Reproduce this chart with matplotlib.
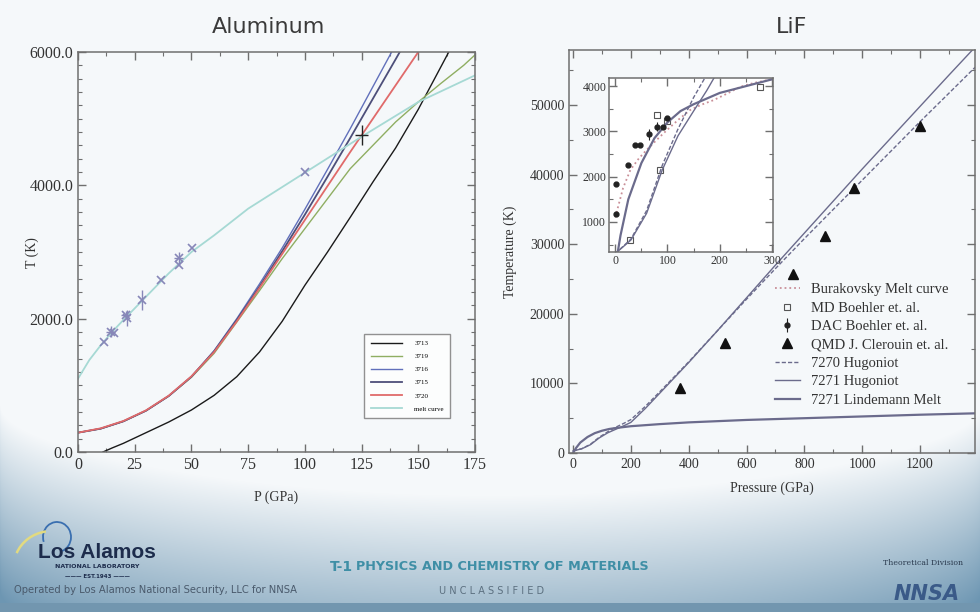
import numpy as np
import matplotlib
matplotlib.use("Agg")
import matplotlib.pyplot as plt
from matplotlib.ticker import MultipleLocator, FormatStrFormatter
from matplotlib.patches import Arc

W, H = 980, 612
SERIF = "Liberation Serif"

# ---------------- Aluminum (left) ----------------
p_3713 = [11, 15, 20, 30, 40, 50, 60, 70, 80, 90, 100, 110, 120, 130, 140, 150, 160, 165]
t_3713 = [0, 60, 130, 290, 450, 630, 850, 1130, 1500, 1960, 2500, 3000, 3520, 4050, 4560, 5140, 5780, 6100]
p_3719 = [0, 10, 20, 30, 40, 50, 60, 70, 80, 90, 100, 110, 120, 130, 140, 150, 160, 170, 178]
t_3719 = [290, 350, 460, 620, 840, 1120, 1480, 1950, 2420, 2900, 3350, 3800, 4250, 4600, 4950, 5250, 5530, 5800, 6050]
p_3716 = [0, 10, 20, 30, 40, 50, 60, 70, 80, 90, 100, 110, 120, 130, 140]
t_3716 = [290, 350, 460, 620, 840, 1130, 1520, 2000, 2520, 3060, 3640, 4240, 4850, 5480, 6110]
p_3715 = [0, 10, 20, 30, 40, 50, 60, 70, 80, 90, 100, 110, 120, 130, 140, 145]
t_3715 = [290, 350, 460, 620, 840, 1130, 1510, 1980, 2480, 3010, 3560, 4130, 4710, 5300, 5890, 6190]
p_3720 = [0, 10, 20, 30, 40, 50, 60, 70, 80, 90, 100, 110, 120, 130, 140, 150, 155]
t_3720 = [290, 355, 465, 625, 845, 1135, 1500, 1960, 2460, 2970, 3480, 3990, 4500, 5000, 5500, 6000, 6250]
p_melt = [0, 5, 10, 15, 20, 30, 40, 50, 60, 75, 100, 125, 150, 175]
t_melt = [1100, 1380, 1600, 1800, 1980, 2330, 2680, 3000, 3250, 3650, 4190, 4730, 5250, 5650]

# measured melt points (with error bars on some)
al_pts_p = [11.6, 14.5, 16.0, 21.1, 21.8, 28.4, 36.5, 44.5, 44.5, 50.4, 100.0]
al_pts_t = [1655, 1805, 1785, 2055, 2005, 2280, 2580, 2805, 2905, 3055, 4200]
al_pts_perr = [0, 2, 0, 2, 0, 0, 0, 0, 2, 0, 0]
al_pts_terr = [0, 80, 0, 60, 120, 150, 0, 0, 100, 0, 0]
al_blk_p, al_blk_t = [125.0], [4750]

# ---------------- LiF (right) ----------------
p_hug = [0, 30, 60, 90, 120, 150, 175, 200, 250, 300, 400, 500, 600, 700, 800,
         900, 1000, 1100, 1200, 1300, 1390]
t_7271 = [300, 600, 1190, 2150, 2900, 3450, 3900, 4400, 6400, 8600, 13000, 17600,
          22300, 27000, 31600, 36200, 40800, 45300, 49800, 54300, 58300]
t_7270 = [300, 620, 1250, 2250, 3050, 3750, 4250, 4800, 6700, 8800, 13100, 17600,
          22100, 26500, 30800, 35000, 39200, 43400, 47600, 51700, 55400]
p_lind = [0, 10, 25, 50, 75, 100, 125, 150, 200, 300, 400, 600, 800, 1000, 1200, 1390]
t_lind = [0, 700, 1500, 2300, 2850, 3200, 3450, 3600, 3850, 4150, 4400, 4750, 5000,
          5250, 5500, 5700]
p_bur = [0, 15, 29, 45, 60, 80, 99, 120, 143, 165, 188, 215, 239, 265, 290, 300]
t_bur = [1100, 1750, 2150, 2400, 2590, 2820, 3030, 3250, 3470, 3590, 3690, 3840,
         3985, 4070, 4130, 4150]
p_md = [29, 86, 80, 100, 277]
t_md = [600, 2145, 3360, 3230, 3985]
p_dac = [2, 2, 24, 38, 48, 64, 80, 92, 100]
t_dac = [1837, 1174, 2256, 2700, 2700, 2940, 3100, 3100, 3290]
t_dac_err = [0, 0, 0, 0, 0, 120, 100, 0, 0]
p_qmd = [370, 526, 761, 872, 972, 1200]
t_qmd = [9400, 15800, 25700, 31200, 38100, 47000]


def fx(px):
    return px / W


def fy(py):
    return 1 - py / H


def box(l, t, r, b):
    return [fx(l), fy(b), (r - l) / W, (b - t) / H]


def style_axes(ax, labelsize):
    for s in ax.spines.values():
        s.set_color("#6f6f6f")
        s.set_linewidth(1.1)
    ax.tick_params(which="both", direction="in", top=True, right=True,
                   colors="#6f6f6f", labelcolor="#333333", labelsize=labelsize)
    ax.tick_params(which="major", length=6, width=1.0)
    ax.tick_params(which="minor", length=3, width=0.8)
    for lab in ax.get_xticklabels() + ax.get_yticklabels():
        lab.set_fontfamily(SERIF)
    ax.set_facecolor("none")


fig = plt.figure(figsize=(9.8, 6.12), dpi=100)

# slide background
yy, xx = np.mgrid[0:H, 0:W]
start = 405 + 90 * np.sin(np.pi * xx / W) ** 0.5
t = np.clip((yy - start) / 185.0, 0, 1)
top_c = np.array([0.962, 0.973, 0.981])
bot_c = np.array([0.43, 0.59, 0.70])
img = top_c + (bot_c - top_c) * t[..., None]
img[yy > 602] = [0.45, 0.59, 0.69]
bg = fig.add_axes([0, 0, 1, 1], zorder=-10)
bg.imshow(img, aspect="auto", extent=[0, W, H, 0])
bg.set_xlim(0, W)
bg.set_ylim(H, 0)
bg.axis("off")

# ---------- Aluminum ----------
ax1 = fig.add_axes(box(78, 52, 475, 452))
ax1.plot(p_3713, t_3713, color="#1a1a1a", lw=1.0, label="3713")
ax1.plot(p_3719, t_3719, color="#8fae62", lw=1.0, label="3719")
ax1.plot(p_3716, t_3716, color="#6170bb", lw=1.0, label="3716")
ax1.plot(p_3715, t_3715, color="#4d4f7a", lw=1.3, label="3715")
ax1.plot(p_3720, t_3720, color="#e06a6a", lw=1.3, label="3720")
ax1.plot(p_melt, t_melt, color="#a6d9d4", lw=1.3, label="melt curve")
ax1.errorbar(al_pts_p, al_pts_t, xerr=al_pts_perr, yerr=al_pts_terr, fmt="x",
             color="#8787b8", ms=6, mew=1.2, elinewidth=1.0, capsize=0)
ax1.errorbar(al_blk_p, al_blk_t, xerr=[3], yerr=[150], fmt="none",
             ecolor="#222222", elinewidth=1.0)
ax1.set_xlim(0, 175)
ax1.set_ylim(0, 6000)
ax1.xaxis.set_major_locator(MultipleLocator(25))
ax1.xaxis.set_minor_locator(MultipleLocator(12.5))
ax1.yaxis.set_major_locator(MultipleLocator(2000))
ax1.yaxis.set_minor_locator(MultipleLocator(200))
ax1.yaxis.set_major_formatter(FormatStrFormatter("%.1f"))
style_axes(ax1, 11.5)
ax1.set_xlabel("P (GPa)", fontfamily=SERIF, fontsize=10, color="#333333", labelpad=13)
ax1.set_ylabel("T (K)", fontfamily=SERIF, fontsize=10, color="#333333")
ax1.yaxis.set_label_coords(-0.098, 0.4975)
leg1 = ax1.legend(loc="lower right", bbox_to_anchor=(fx(450), fy(418)),
                  bbox_transform=fig.transFigure, borderaxespad=0,
                  prop={"family": SERIF, "size": 5}, frameon=True, fancybox=False,
                  edgecolor="#777777", handlelength=4.5, labelspacing=1.05,
                  borderpad=0.9, handletextpad=1.8)
leg1.get_frame().set_linewidth(1.0)
fig.text(fx(269), fy(27), "Aluminum", ha="center", va="center", fontsize=16,
         color="#3a3a3a", fontfamily="DejaVu Sans")

# ---------- LiF ----------
ax2 = fig.add_axes(box(569, 50, 975, 453))
line_c = "#6b6b8c"
ax2.plot(p_hug, t_7270, color=line_c, lw=1.0, ls=(0, (3, 1.5)))
ax2.plot(p_hug, t_7271, color=line_c, lw=1.0)
ax2.plot(p_lind, t_lind, color=line_c, lw=1.6)
ax2.plot(p_qmd, t_qmd, "^", color="#111111", ms=7, ls="none")
ax2.set_xlim(-14, 1390)
ax2.set_ylim(0, 57900)
ax2.xaxis.set_major_locator(MultipleLocator(200))
ax2.xaxis.set_minor_locator(MultipleLocator(100))
ax2.yaxis.set_major_locator(MultipleLocator(10000))
ax2.yaxis.set_minor_locator(MultipleLocator(5000))
style_axes(ax2, 10)
ax2.set_xlabel("Pressure (GPa)", fontfamily=SERIF, fontsize=10, color="#333333", labelpad=8)
ax2.set_ylabel("Temperature (K)", fontfamily=SERIF, fontsize=10, color="#333333")
ax2.yaxis.set_label_coords(-0.128, 0.5)
fig.text(fx(792), fy(27), "LiF", ha="center", va="center", fontsize=16,
         color="#3a3a3a", fontfamily="DejaVu Sans")

# inset
ax3 = fig.add_axes(box(609, 78, 773, 252))
h_bur, = ax3.plot(p_bur, t_bur, color="#c98f98", lw=1.3, ls=":")
h_md, = ax3.plot(p_md, t_md, "s", mfc="none", mec="#555555", ms=5, mew=0.8, ls="none")
h_dac = ax3.errorbar(p_dac, t_dac, yerr=t_dac_err, fmt="o", color="#222222", ms=3.5,
                     elinewidth=0.8)
h_70, = ax3.plot(p_hug, t_7270, color=line_c, lw=1.0, ls=(0, (3, 1.5)))
h_71, = ax3.plot(p_hug, t_7271, color=line_c, lw=1.0)
h_li, = ax3.plot(p_lind, t_lind, color=line_c, lw=1.6)
h_qmd, = ax3.plot([], [], "^", color="#111111", ms=7, ls="none")
ax3.set_xlim(-12, 302)
ax3.set_ylim(335, 4180)
ax3.xaxis.set_major_locator(MultipleLocator(100))
ax3.xaxis.set_minor_locator(MultipleLocator(50))
ax3.yaxis.set_major_locator(MultipleLocator(1000))
ax3.yaxis.set_minor_locator(MultipleLocator(500))
style_axes(ax3, 8.5)
ax3.set_facecolor("white")
ax3.tick_params(axis="both", pad=2)

ax2.legend([h_bur, h_md, h_dac, h_qmd, h_70, h_71, h_li],
           ["Burakovsky Melt curve", "MD Boehler et. al.", "DAC Boehler et. al.",
            "QMD J. Clerouin et. al.", "7270 Hugoniot", "7271 Hugoniot",
            "7271 Lindemann Melt"],
           loc="upper left", bbox_to_anchor=(fx(775), fy(283)),
           bbox_transform=fig.transFigure, borderaxespad=0, borderpad=0,
           frameon=False, prop={"family": SERIF, "size": 10.5},
           handlelength=1.7, handletextpad=0.8, labelspacing=0.36,
           labelcolor="#333333")

# ---------- footer ----------
bg.add_patch(Arc((57, 537), 28, 30, theta1=-200, theta2=70, color="#3a6fb0", lw=1.3))
bg.add_patch(Arc((52, 566), 76, 70, theta1=-160, theta2=-100, color="#e2da80", lw=1.8))
fig.text(fx(97), fy(552), "Los Alamos", ha="center", va="center", fontsize=15,
         fontweight="bold", color="#1d2c4c", fontfamily="Liberation Sans")
fig.text(fx(97), fy(567), "NATIONAL LABORATORY", ha="center", va="center",
         fontsize=4.5, fontweight="bold", color="#1d2c4c", fontfamily="DejaVu Sans")
fig.text(fx(97), fy(577), "——— EST.1943 ———", ha="center", va="center",
         fontsize=4, fontweight="bold", color="#1d2c4c", fontfamily="DejaVu Sans")
fig.text(fx(14), fy(590), "Operated by Los Alamos National Security, LLC for NNSA",
         ha="left", va="center", fontsize=7.2, color="#4a5a6c", fontfamily="DejaVu Sans")
fig.text(fx(330), fy(567), "T-1", ha="left", va="center", fontsize=10,
         fontweight="bold", color="#3f8fa6", fontfamily="DejaVu Sans")
fig.text(fx(356), fy(567), "PHYSICS AND CHEMISTRY OF MATERIALS", ha="left",
         va="center", fontsize=9.2, fontweight="bold", color="#3f8fa6",
         fontfamily="DejaVu Sans")
fig.text(fx(492), fy(591), "U N C L A S S I F I E D", ha="center", va="center",
         fontsize=7, color="#5c7080", fontfamily="DejaVu Sans")
fig.text(fx(923), fy(563), "Theoretical Division", ha="center", va="center",
         fontsize=5.6, color="#2c3c50", fontfamily="DejaVu Serif")
fig.text(fx(927), fy(594), "NNSA", ha="center", va="center", fontsize=15,
         fontweight="bold", fontstyle="italic", color="#3a5a88", fontfamily="DejaVu Sans")

fig.savefig("out.png", dpi=100)
